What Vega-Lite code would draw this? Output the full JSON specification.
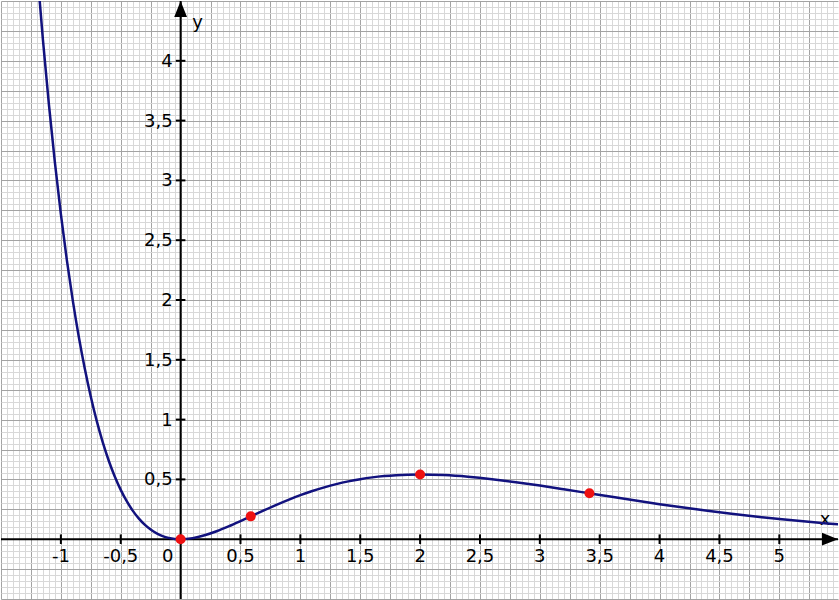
{
  "$schema": "https://vega.github.io/schema/vega-lite/v6.json",
  "width": 839,
  "height": 600,
  "padding": 0,
  "autosize": {"type": "fit", "contains": "padding"},
  "background": "#ffffff",
  "config": {
    "view": {"stroke": null},
    "axis": {"labels": false, "ticks": false, "domain": false}
  },
  "datasets": {
    "curve": [
      {"x": -1.2, "y": 4.781}, {"x": -1.15, "y": 4.1767}, {"x": -1.1, "y": 3.635}, {"x": -1.05, "y": 3.1506},
      {"x": -1.0, "y": 2.7183}, {"x": -0.95, "y": 2.3336}, {"x": -0.9, "y": 1.9923}, {"x": -0.85, "y": 1.6904},
      {"x": -0.8, "y": 1.4243}, {"x": -0.75, "y": 1.1908}, {"x": -0.7, "y": 0.9867}, {"x": -0.65, "y": 0.8093},
      {"x": -0.6, "y": 0.656}, {"x": -0.55, "y": 0.5243}, {"x": -0.5, "y": 0.4122}, {"x": -0.45, "y": 0.3176},
      {"x": -0.4, "y": 0.2387}, {"x": -0.35, "y": 0.1738}, {"x": -0.3, "y": 0.1215}, {"x": -0.25, "y": 0.0803},
      {"x": -0.2, "y": 0.0489}, {"x": -0.15, "y": 0.0261}, {"x": -0.1, "y": 0.0111}, {"x": -0.05, "y": 0.0026},
      {"x": 0, "y": 0}, {"x": 0.1, "y": 0.009}, {"x": 0.2, "y": 0.0327}, {"x": 0.3, "y": 0.0667},
      {"x": 0.4, "y": 0.1073}, {"x": 0.5, "y": 0.1516}, {"x": 0.6, "y": 0.1976}, {"x": 0.7, "y": 0.2433},
      {"x": 0.8, "y": 0.2876}, {"x": 0.9, "y": 0.3293}, {"x": 1.0, "y": 0.3679}, {"x": 1.1, "y": 0.4028},
      {"x": 1.2, "y": 0.4337}, {"x": 1.3, "y": 0.4606}, {"x": 1.4, "y": 0.4833}, {"x": 1.5, "y": 0.502},
      {"x": 1.6, "y": 0.5169}, {"x": 1.7, "y": 0.528}, {"x": 1.8, "y": 0.5356}, {"x": 1.9, "y": 0.5399},
      {"x": 2.0, "y": 0.5413}, {"x": 2.2, "y": 0.5363}, {"x": 2.4, "y": 0.5225}, {"x": 2.6, "y": 0.5021},
      {"x": 2.8, "y": 0.4767}, {"x": 3.0, "y": 0.4481}, {"x": 3.2, "y": 0.4174}, {"x": 3.4, "y": 0.3858},
      {"x": 3.6, "y": 0.3541}, {"x": 3.8, "y": 0.323}, {"x": 4.0, "y": 0.2931}, {"x": 4.2, "y": 0.2645},
      {"x": 4.4, "y": 0.2377}, {"x": 4.6, "y": 0.2127}, {"x": 4.8, "y": 0.1896}, {"x": 5.0, "y": 0.1684},
      {"x": 5.2, "y": 0.1492}, {"x": 5.4, "y": 0.1317}, {"x": 5.5, "y": 0.1236}
    ],
    "pts": [
      {"x": 0, "y": 0}, {"x": 0.5858, "y": 0.191}, {"x": 2.0, "y": 0.5413}, {"x": 3.4142, "y": 0.3835}
    ],
    "xticks": [
      {"x": -1, "lab": "-1"}, {"x": -0.5, "lab": "-0,5"}, {"x": 0.5, "lab": "0,5"}, {"x": 1, "lab": "1"},
      {"x": 1.5, "lab": "1,5"}, {"x": 2, "lab": "2"}, {"x": 2.5, "lab": "2,5"}, {"x": 3, "lab": "3"},
      {"x": 3.5, "lab": "3,5"}, {"x": 4, "lab": "4"}, {"x": 4.5, "lab": "4,5"}, {"x": 5, "lab": "5"}
    ],
    "yticks": [
      {"y": 0.5, "lab": "0,5"}, {"y": 1, "lab": "1"}, {"y": 1.5, "lab": "1,5"}, {"y": 2, "lab": "2"},
      {"y": 2.5, "lab": "2,5"}, {"y": 3, "lab": "3"}, {"y": 3.5, "lab": "3,5"}, {"y": 4, "lab": "4"}
    ],
    "axes": [{"x1": -1.5, "x2": 5.49, "y1": -0.5, "y2": 4.5}]
  },
  "layer": [
    {
      "data": {"name": "axes"},
      "mark": {"type": "rule", "color": "#000000", "strokeWidth": 2},
      "encoding": {
        "x": {"field": "x1", "type": "quantitative", "title": null,
          "scale": {"domain": [-1.5, 5.49], "nice": false, "zero": false},
          "axis": {"title": null, "labels": false, "ticks": false, "domain": false, "tickCount": 140,
            "grid": true, "gridWidth": 1,
            "gridColor": {"condition": {"test": "abs(datum.value*4 - round(datum.value*4)) < 0.001", "value": "#a3a3a3"}, "value": "#d8d8d8"}}},
        "x2": {"field": "x2"},
        "y": {"datum": 0, "type": "quantitative",
          "scale": {"domain": [-0.5, 4.5], "nice": false, "zero": false},
          "axis": {"title": null, "labels": false, "ticks": false, "domain": false, "tickCount": 100,
            "grid": true, "gridWidth": 1,
            "gridColor": {"condition": {"test": "abs(datum.value*4 - round(datum.value*4)) < 0.001", "value": "#a3a3a3"}, "value": "#d8d8d8"}}}
      }
    },
    {
      "data": {"name": "axes"},
      "mark": {"type": "rule", "color": "#000000", "strokeWidth": 2},
      "encoding": {
        "x": {"datum": 0, "type": "quantitative"},
        "y": {"field": "y1", "type": "quantitative", "title": null},
        "y2": {"field": "y2"}
      }
    },
    {
      "data": {"name": "axes"},
      "mark": {"type": "point", "shape": "M0,0L0.8,2L-0.8,2Z", "size": 256, "filled": true, "color": "#000000", "opacity": 1},
      "encoding": {
        "x": {"datum": 0, "type": "quantitative"},
        "y": {"field": "y2", "type": "quantitative", "title": null}
      }
    },
    {
      "data": {"name": "axes"},
      "mark": {"type": "point", "shape": "M0,0L-2,-0.8L-2,0.8Z", "size": 256, "filled": true, "color": "#000000", "opacity": 1},
      "encoding": {
        "x": {"field": "x2", "type": "quantitative", "title": null},
        "y": {"datum": 0, "type": "quantitative"}
      }
    },
    {
      "data": {"name": "xticks"},
      "mark": {"type": "rule", "color": "#000000", "strokeWidth": 2},
      "encoding": {
        "x": {"field": "x", "type": "quantitative", "title": null},
        "y": {"datum": -0.04, "type": "quantitative"},
        "y2": {"datum": 0.04}
      }
    },
    {
      "data": {"name": "yticks"},
      "mark": {"type": "rule", "color": "#000000", "strokeWidth": 2},
      "encoding": {
        "y": {"field": "y", "type": "quantitative", "title": null},
        "x": {"datum": -0.04, "type": "quantitative"},
        "x2": {"datum": 0.04}
      }
    },
    {
      "data": {"name": "xticks"},
      "mark": {"type": "text", "align": "center", "baseline": "middle", "dy": 18, "font": "DejaVu Sans", "fontSize": 18, "color": "#000000"},
      "encoding": {
        "x": {"field": "x", "type": "quantitative", "title": null},
        "y": {"datum": 0, "type": "quantitative"},
        "text": {"field": "lab"}
      }
    },
    {
      "data": {"values": [{"lab": "0"}]},
      "mark": {"type": "text", "align": "center", "baseline": "middle", "dy": 18, "dx": -13, "font": "DejaVu Sans", "fontSize": 18, "color": "#000000"},
      "encoding": {
        "x": {"datum": 0, "type": "quantitative"},
        "y": {"datum": 0, "type": "quantitative"},
        "text": {"field": "lab"}
      }
    },
    {
      "data": {"name": "yticks"},
      "mark": {"type": "text", "align": "right", "baseline": "middle", "dx": -8, "dy": 1, "font": "DejaVu Sans", "fontSize": 18, "color": "#000000"},
      "encoding": {
        "y": {"field": "y", "type": "quantitative", "title": null},
        "x": {"datum": 0, "type": "quantitative"},
        "text": {"field": "lab"}
      }
    },
    {
      "data": {"values": [{"lab": "y"}]},
      "mark": {"type": "text", "align": "center", "baseline": "alphabetic", "dx": 17, "dy": 27, "font": "DejaVu Sans", "fontSize": 18, "color": "#000000"},
      "encoding": {
        "x": {"datum": 0, "type": "quantitative"},
        "y": {"datum": 4.5, "type": "quantitative"},
        "text": {"field": "lab"}
      }
    },
    {
      "data": {"values": [{"lab": "x"}]},
      "mark": {"type": "text", "align": "center", "baseline": "alphabetic", "dx": -13, "dy": -14, "font": "DejaVu Sans", "fontSize": 18, "color": "#000000"},
      "encoding": {
        "x": {"datum": 5.49, "type": "quantitative"},
        "y": {"datum": 0, "type": "quantitative"},
        "text": {"field": "lab"}
      }
    },
    {
      "data": {"name": "curve"},
      "mark": {"type": "line", "color": "#12127e", "strokeWidth": 2.5, "interpolate": "monotone", "clip": true},
      "encoding": {
        "x": {"field": "x", "type": "quantitative", "title": null},
        "y": {"field": "y", "type": "quantitative", "title": null}
      }
    },
    {
      "data": {"name": "pts"},
      "mark": {"type": "circle", "color": "#ee1111", "size": 100, "opacity": 1},
      "encoding": {
        "x": {"field": "x", "type": "quantitative", "title": null},
        "y": {"field": "y", "type": "quantitative", "title": null}
      }
    }
  ]
}
